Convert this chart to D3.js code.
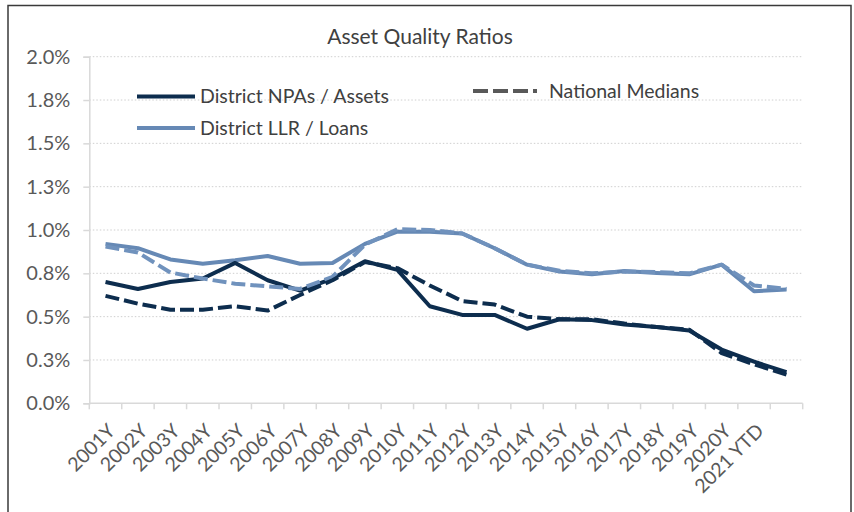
<!DOCTYPE html>
<html>
<head>
<meta charset="utf-8">
<script src="https://cdn.jsdelivr.net/npm/d3@7"></script>
<style>
  html, body { margin: 0; padding: 0; background: #fff; }
  svg { display: block; font-family: Lato, "Open Sans", sans-serif; }
</style>
</head>
<body>
<svg id="chart" width="854" height="512"></svg>
<script>
const categories = ["2001Y","2002Y","2003Y","2004Y","2005Y","2006Y","2007Y","2008Y","2009Y","2010Y",
  "2011Y","2012Y","2013Y","2014Y","2015Y","2016Y","2017Y","2018Y","2019Y","2020Y","2021 YTD",""];
const districtNpa = [0.70,0.66,0.70,0.72,0.81,0.71,0.65,0.72,0.82,0.77,0.56,0.51,0.51,0.43,0.485,0.48,0.455,0.44,0.42,0.31,0.24,0.18];
const nationalNpa = [0.62,0.575,0.54,0.54,0.56,0.535,0.625,0.71,0.815,0.78,0.68,0.59,0.57,0.50,0.485,0.485,0.46,0.44,0.425,0.29,0.225,0.165];
const districtLlr = [0.92,0.895,0.83,0.805,0.825,0.85,0.805,0.81,0.92,0.99,0.99,0.98,0.895,0.80,0.76,0.745,0.763,0.752,0.744,0.80,0.647,0.657];
const nationalLlr = [0.905,0.87,0.755,0.72,0.69,0.675,0.66,0.73,0.915,1.005,1.0,0.98,0.895,0.80,0.765,0.75,0.76,0.757,0.75,0.80,0.68,0.66];
const yTickValues = [0,0.25,0.5,0.75,1.0,1.25,1.5,1.75,2.0];
const yTickLabels = ["0.0%","0.3%","0.5%","0.8%","1.0%","1.3%","1.5%","1.8%","2.0%"];
const seriesNames = ["District NPAs / Assets","District LLR / Loans","National Medians"];

const DARK = "#0d2d4e", LIGHT = "#6689b5", LIGHT_D = "#7092bd", GRAY = "#595959", TXT = "#404040";
const svg = d3.select("#chart");
const pLeft = 89.3, pRight = 802.7, pTop = 56.7, pBottom = 403.3;

const x = d3.scaleBand().domain(categories.map((c,i)=>i)).range([pLeft, pRight]).padding(0);
const y = d3.scaleLinear().domain([0, 2]).range([pBottom, pTop]);
const cx = i => x(i) + x.bandwidth()/2;

// frame
svg.append("path").attr("d", `M8,512 L8,5.5 L851,5.5 L851,512`)
  .attr("fill","none").attr("stroke","#3a3a3a").attr("stroke-width",1.5);

// title
svg.append("text").attr("x", 420).attr("y", 44).attr("text-anchor","middle")
  .attr("font-size", 21).attr("fill", TXT).text("Asset Quality Ratios");

// gridlines
svg.append("g").selectAll("line").data(yTickValues.slice(1)).join("line")
  .attr("x1", pLeft).attr("x2", pRight).attr("y1", d=>y(d)).attr("y2", d=>y(d))
  .attr("stroke","#cfcfcf").attr("stroke-width",1).attr("stroke-dasharray","1.5,2");

// y axis
const yAxis = d3.axisLeft(y).tickValues(yTickValues).tickFormat((d,i)=>yTickLabels[i]).tickSize(6).tickPadding(13);
const gy = svg.append("g").attr("transform", `translate(${pLeft},0)`).call(yAxis);
gy.select(".domain").attr("stroke","#d9d9d9").attr("stroke-width",1.5);
gy.selectAll(".tick line").attr("stroke","#d9d9d9").attr("stroke-width",1.5);
gy.selectAll(".tick text").attr("font-size",20).attr("fill",GRAY).attr("font-family","Lato, sans-serif");

// x axis
const gx = svg.append("g").attr("transform", `translate(0,${pBottom})`);
gx.append("line").attr("x1", pLeft).attr("x2", pRight).attr("stroke","#d9d9d9").attr("stroke-width",1.5);
const edges = d3.range(categories.length + 1).map(i => i < categories.length ? x(i) : x(categories.length-1) + x.bandwidth());
gx.selectAll("line.tk").data(edges).join("line").attr("class","tk")
  .attr("x1", d=>d).attr("x2", d=>d).attr("y1", 0).attr("y2", 6)
  .attr("stroke","#d9d9d9").attr("stroke-width",1.5);
gx.selectAll("text").data(categories).join("text")
  .attr("transform", (d,i)=>`translate(${cx(i)+6},${24}) rotate(-45)`)
  .attr("text-anchor","end").attr("dy","0.35em")
  .attr("font-size",19.5).attr("fill",GRAY).text(d=>d);

// lines
const line = d3.line().x((d,i)=>cx(i)).y(d=>y(d));
const series = [
  {data: districtLlr, color: LIGHT, dash: null},
  {data: districtNpa, color: DARK, dash: null},
  {data: nationalLlr, color: LIGHT_D, dash: "14,5"},
  {data: nationalNpa, color: DARK, dash: "14,5"}
];
svg.append("g").selectAll("path").data(series).join("path")
  .attr("d", d=>line(d.data)).attr("fill","none")
  .attr("stroke", d=>d.color).attr("stroke-width",4)
  .attr("stroke-dasharray", d=>d.dash)
  .attr("stroke-linejoin","round");

// legend
const legend = [
  {name: seriesNames[0], color: DARK, dash: null, x1: 137, x2: 195, y: 96.5, tx: 200},
  {name: seriesNames[1], color: LIGHT, dash: null, x1: 137, x2: 195, y: 128, tx: 200},
  {name: seriesNames[2], color: GRAY, dash: "15,5", x1: 473, x2: 537, y: 91, tx: 549}
];
const lg = svg.append("g").selectAll("g").data(legend).join("g");
lg.append("line").attr("x1",d=>d.x1).attr("x2",d=>d.x2).attr("y1",d=>d.y).attr("y2",d=>d.y)
  .attr("stroke",d=>d.color).attr("stroke-width",4).attr("stroke-dasharray",d=>d.dash);
lg.append("text").attr("x",d=>d.tx).attr("y",d=>d.y).attr("dy","0.35em")
  .attr("font-size",19.5).attr("fill",TXT).text(d=>d.name);
</script>
</body>
</html>
